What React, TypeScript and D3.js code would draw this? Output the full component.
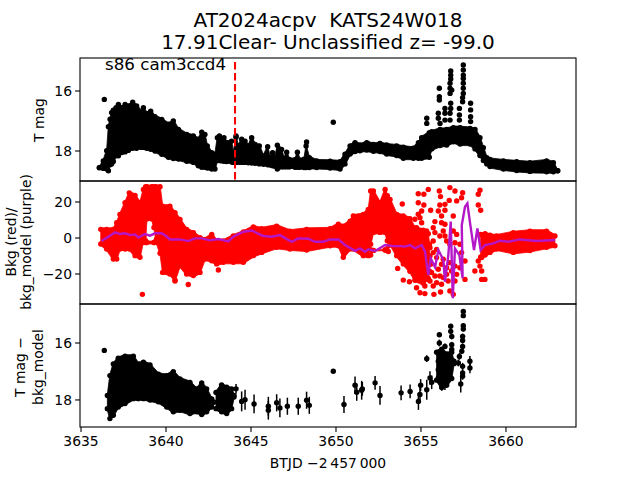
import React from "react";
import * as d3 from "d3";

type Row = number[];

const titleLines = ["AT2024acpv  KATS24W018", "17.91Clear- Unclassified z= -99.0"];
const sectorLabel = "s86 cam3ccd4";
const markerTime = 3644.06;
const xTicks = [3635, 3640, 3645, 3650, 3655, 3660];
const topTicks = [16, 18];
const midTicks = [20, 0, -20];
const botTicks = [16, 18];

// [BTJD, bright edge, faint edge]
const topBand: Row[] = [
  [3636.08,18.47,18.64],[3636.31,18.24,18.67],[3636.51,17.90,18.69],[3636.61,17.10,18.75],[3636.71,16.85,18.55],[3636.80,16.63,18.52],
  [3636.90,16.55,18.44],[3637.06,16.47,18.25],[3637.20,16.36,18.25],[3637.39,16.47,18.14],[3637.59,16.36,18.12],[3637.78,16.41,18.07],
  [3638.04,16.28,18.00],[3638.27,16.41,18.00],[3638.57,16.61,17.97],[3638.67,16.47,17.97],[3638.86,16.66,18.00],[3639.10,16.58,18.03],
  [3639.35,16.77,18.09],[3639.75,16.86,18.20],[3640.14,17.02,18.30],[3640.43,16.91,18.34],[3640.73,17.19,18.36],[3641.22,17.36,18.43],
  [3641.61,17.41,18.47],[3641.90,17.52,18.58],[3642.10,17.28,18.63],[3642.29,17.36,18.63],[3642.43,17.74,18.66],[3642.69,17.97,18.69],
  [3642.88,18.02,18.69],[3643.02,17.47,18.41],[3643.14,17.41,18.41],[3643.27,17.52,18.42],[3643.41,17.47,18.43],[3643.57,17.63,18.44],
  [3643.86,17.58,18.46],[3643.96,17.97,18.47],[3644.12,17.45,18.47],[3644.25,17.74,18.47],[3644.45,17.52,18.47],[3644.65,17.58,18.47],
  [3644.84,17.74,18.48],[3645.04,17.47,18.49],[3645.24,17.69,18.50],[3645.49,17.74,18.52],[3645.73,18.08,18.53],[3645.98,17.77,18.55],
  [3646.12,18.13,18.56],[3646.27,17.97,18.58],[3646.41,18.13,18.60],[3646.55,17.72,18.69],[3646.80,17.86,18.62],[3646.94,18.17,18.62],
  [3647.10,17.95,18.62],[3647.25,18.19,18.62],[3647.59,18.20,18.63],[3647.73,17.95,18.63],[3647.88,18.21,18.63],[3648.12,18.18,18.64],
  [3648.24,17.74,18.64],[3648.43,18.13,18.64],[3648.86,18.24,18.64],[3649.65,18.25,18.66],[3650.24,18.27,18.69],[3650.53,18.02,18.52],
  [3650.83,17.74,18.19],[3651.12,17.63,18.11],[3651.41,17.71,18.08],[3651.81,17.63,18.06],[3652.20,17.69,18.10],
  [3652.59,17.66,18.11],[3652.98,17.71,18.19],[3653.57,17.74,18.24],[3653.96,17.78,18.33],[3654.55,17.82,18.33],
  [3654.85,17.63,18.33],[3655.04,17.47,18.33],[3655.49,17.30,18.30],[3655.63,17.27,18.02],[3656.12,17.19,17.91],
  [3656.51,17.19,17.89],[3656.90,17.13,17.78],[3657.30,17.13,17.86],[3657.89,17.16,17.86],[3658.18,17.19,18.02],
  [3658.47,17.47,18.24],[3658.67,17.80,18.41],[3658.87,18.13,18.52],[3659.06,18.19,18.61],[3659.85,18.24,18.69],
  [3660.63,18.27,18.74],[3661.41,18.30,18.77],[3662.39,18.24,18.78],[3662.79,18.30,18.78],[3663.04,18.58,18.74],
];
// [BTJD, mag]
const topPoints: Row[] = [
  [3636.37,16.28],[3644.12,17.50],[3649.84,17.04],[3648.27,17.70],
  [3656.08,15.91],[3656.08,16.19],[3656.08,16.30],[3656.02,16.74],[3656.02,16.91],[3656.12,17.08],
  [3656.75,15.33],[3656.75,15.47],[3656.75,15.60],[3656.71,15.74],[3656.71,15.91],[3656.81,15.97],[3656.71,16.08],
  [3656.75,16.41],[3656.75,16.58],[3656.71,16.74],[3656.71,16.97],
  [3657.49,15.13],[3657.49,15.30],[3657.49,15.47],[3657.49,15.58],[3657.49,15.74],[3657.49,15.91],[3657.49,16.08],[3657.45,16.22],[3657.45,16.36],
  [3657.92,16.41],[3657.92,16.63],[3657.92,16.86],[3657.92,17.02],
  [3655.34,16.91],[3655.34,17.08],[3656.41,16.58],[3656.41,16.74],[3656.41,16.97],[3657.26,16.58],[3657.26,16.80],[3657.26,16.97],
];

// [BTJD, high edge, low edge]
const midBandA: Row[] = [
  [3636.16,6.3,-4.8],[3636.51,6.3,-7.6],[3636.90,6.3,-13.2],[3637.10,10.0,-13.2],[3637.29,14.6,-7.6],[3637.59,21.1,-7.6],
  [3637.84,26.6,-7.6],[3638.18,25.2,-11.3],[3638.47,21.1,-12.2],[3638.67,28.5,-3.0],[3638.80,30,-3],[3638.88,30,9.1],
  [3639.16,30,9.1],[3639.29,30,4.4],[3639.41,30,-3],[3639.65,30,-10],[3639.80,19.2,-20.6],[3640.23,19.2,-21.5],
  [3640.53,15.5,-25],[3640.82,11.8,-17],[3641.21,6.3,-21.5],[3641.61,4.4,-22.4],[3642.00,1.6,-20.6],[3642.29,0.7,-13.2],
  [3642.69,3.5,-14.1],[3642.98,0,-15.9],[3643.37,-0.2,-15],[3643.96,2.6,-15],[3644.55,4.8,-15],[3645.14,7.6,-11.3],
  [3645.63,6.6,-9.5],[3646.51,8.1,-6.7],[3647.29,5.3,-7.6],[3648.27,6.3,-8.2],[3649.65,6.6,-5.8],[3650.14,9.1,-5.8],
  [3650.43,8.1,-12.2],[3650.83,10.9,-7.6],[3651.02,13.7,-7.6],[3651.61,14.6,-11.3],[3651.90,17.4,-11.3],[3652.04,27.6,-5],
  [3652.20,27.6,1.6],[3652.59,21.1,1.6],[3652.89,28.5,1.6],[3653.02,25,-3],[3653.18,22.9,-4.8],[3653.57,14.6,-11.3],
  [3653.96,13.7,-15.9],[3654.35,12.2,-20],[3654.64,7,-25],[3655.13,5.8,-26.7],[3655.43,3.9,-23.9],[3655.50,-2,-20],
];
const midBandB: Row[] = [[3638.70,2,-4],[3638.85,-1,-4],[3639.30,-1,-4],[3639.45,1,-4]];
const midBandC: Row[] = [[3652.04,-5,-11],[3652.20,-5.8,-8],[3652.89,-5.8,-7.6],[3653.08,-3,-9]];
const midBandE: Row[] = [
  [3658.51,3.5,-12],[3658.77,3.9,-11],[3659.06,3,-9.5],[3659.45,2.6,-7.6],[3660.43,4.4,-9.5],
  [3661.41,5.3,-8.5],[3662.39,5.3,-6.7],[3662.88,2.6,-5.8],
];
const midPoints: Row[] = [
  [3638.61,-31.3],[3641.31,-25.8],[3643.08,-17.8],[3640.53,-23.9],[3653.90,18.9],[3653.63,-16.9],[3653.96,-23.4],[3654.32,-24.3],
  [3654.84,24.6],[3655.17,24.3],[3655.43,27.0],[3656.08,26.1],[3656.15,23.0],[3656.70,28.0],[3657.00,26.1],[3657.45,25.2],
  [3657.39,22.4],[3657.10,20.6],[3656.66,20.9],[3656.41,18.7],[3656.11,18.3],[3658.47,26.5],[3658.37,24.3],[3658.37,18.3],
  [3658.51,15.4],[3654.84,19.6],[3655.17,18.3],[3655.57,15.4],[3655.04,15.0],[3654.84,13.2],[3654.64,10.4],[3654.94,11.3],
  [3655.04,8.5],[3656.02,15.0],[3656.41,15.4],[3656.21,12.2],[3655.82,9.1],[3656.21,8.5],[3656.90,12.2],[3656.41,7.6],
  [3655.72,5.7],[3655.33,3.9],[3655.82,3.0],[3656.31,3.9],[3656.90,3.9],[3656.41,1.1],[3656.11,1.1],[3657.10,2.0],[3654.74,5.7],
  [3655.72,-1.7],[3656.51,-1.7],[3655.53,-5.4],[3655.92,-6.3],[3655.72,-8.1],[3656.70,-3.5],[3657.29,-3.5],[3657.39,-8.1],
  [3657.59,-12.8],[3657.00,-2.6],[3658.37,-12.8],[3656.31,-11.8],[3655.92,-10.9],[3658.57,-10.9],[3658.17,-18.3],[3657.59,-23.0],
  [3657.00,-23.9],[3656.60,-23.9],[3656.21,-25.7],[3655.72,-26.7],[3655.23,-26.7],[3654.74,-27.6],[3654.94,-30.4],[3655.23,-30.9],
  [3655.76,-31.3],[3656.15,-30.0],[3656.90,-31.3],[3658.57,-23.0],[3658.76,-23.0],[3656.70,-29.4],[3656.31,-22.0],[3655.82,-21.1],
  [3655.33,-23.0],[3657.10,-20.2],[3658.57,-18.3],[3658.47,-15.6],[3656.51,-16.5],[3657.00,-15.6],[3655.57,-14.6],[3655.62,-19.2],
  [3656.02,-17.4],[3656.21,-14.6],[3656.11,-21.1],[3656.51,-20.2],[3656.70,-13.7],[3656.80,-18.3],[3657.29,-16.5],[3655.53,-23.9],
  [3655.92,-24.8],[3655.53,-10.0],
];
const modelLine: Row[] = [
  [3636.21,-1.7],[3636.61,0.7],[3637.00,3.1],[3637.29,2.2],[3637.59,2.6],[3637.88,1.6],[3638.18,2.0],[3638.37,0.3],[3638.76,2.2],
  [3639.06,1.3],[3639.35,2.6],[3639.74,2.6],[3640.00,1.1],[3640.23,-0.8],[3640.82,-0.8],[3641.31,-1.7],[3641.70,-0.2],[3642.10,-0.2],
  [3642.59,-1.3],[3643.08,-0.6],[3643.67,-1.9],[3643.96,0.7],[3644.55,3.5],[3645.04,4.2],[3645.72,1.1],[3646.21,0.7],[3646.70,1.6],
  [3647.39,-2.1],[3647.78,-0.2],[3648.37,-0.4],[3648.76,-2.1],[3649.25,-2.1],[3649.65,-0.8],[3650.14,-0.8],[3650.53,-3.9],[3651.12,-7.1],
  [3651.41,-5.8],[3651.71,-7.6],[3651.90,-6.3],[3652.30,-7.2],[3652.89,-3.9],[3653.38,-4.5],[3653.87,-4.5],[3654.06,-4.8],[3654.36,-3.9],
  [3654.65,-5.8],[3655.04,-3.9],[3655.24,-7.6],[3655.43,-20.6],[3655.57,-11.3],[3655.83,-16.3],[3656.02,-6.7],[3656.32,-12.2],[3656.41,-24.3],
  [3656.61,-9.5],[3656.75,9.1],[3656.87,-33.5],[3657.00,-5.8],[3657.26,-9.5],[3657.45,-22.4],[3657.40,7.2],[3657.59,17.4],[3657.73,19.2],
  [3657.89,8.1],[3658.12,-6.7],[3658.32,5.3],[3658.51,-6.7],[3658.77,-3.9],[3659.26,-3.0],[3659.65,-1.5],[3660.14,-2.1],[3660.83,-0.8],
  [3661.81,-1.7],[3662.89,-1.1],
];

const botBandA: Row[] = [
  [3636.55,17.75,18.40],[3636.70,17.05,18.75],[3636.90,16.64,18.63],[3637.19,16.44,18.34],[3637.59,16.37,18.22],[3638.08,16.37,18.05],
  [3638.37,16.64,18.05],[3638.67,16.58,18.05],[3639.06,16.68,18.10],[3639.55,17.00,18.16],[3640.04,17.05,18.34],[3640.43,16.91,18.51],
  [3640.82,17.17,18.46],[3641.41,17.29,18.57],[3641.80,17.52,18.51],[3642.10,17.31,18.61],[3642.39,17.52,18.51],[3642.69,17.87,18.34],[3642.82,18.05,18.10],
];
const botBandB: Row[] = [[3642.94,17.64,18.40],[3643.27,17.38,18.51],[3643.57,17.46,18.57],[3643.86,17.52,18.40],[3644.00,17.75,17.99]];
const botBandC: Row[] = [[3655.92,16.23,17.40],[3656.22,16.12,17.66],[3656.51,16.29,17.58],[3656.81,16.23,17.34],[3656.94,16.58,16.82]];
// [BTJD, mag, error]
const botPoints: Row[] = [
  [3636.37,16.26,0.05],[3644.12,17.61,0.17],[3644.45,18.05,0.35],[3644.65,17.99,0.35],[3645.18,18.14,0.33],[3646.02,18.22,0.33],[3646.02,18.36,0.33],
  [3646.51,18.10,0.30],[3646.70,18.28,0.33],[3647.14,18.22,0.30],[3647.78,18.22,0.30],[3648.27,18.01,0.30],[3648.43,18.19,0.30],
  [3649.84,16.99,0.06],[3650.47,18.16,0.30],[3651.12,17.48,0.30],[3651.22,17.73,0.30],[3651.51,17.66,0.33],[3651.55,17.61,0.24],[3652.30,17.40,0.24],
  [3652.59,17.84,0.33],[3653.83,17.75,0.26],[3654.36,17.70,0.24],[3654.85,18.05,0.30],[3654.94,17.81,0.30],[3654.98,17.48,0.21],[3655.34,17.64,0.35],
  [3655.34,16.55,0.12],[3655.53,17.23,0.24],[3655.63,17.38,0.24],[3656.08,15.71,0.08],[3656.08,16.00,0.12],[3656.02,16.35,0.12],[3656.75,15.41,0.08],
  [3656.75,15.59,0.08],[3656.81,15.77,0.10],[3656.81,16.06,0.10],[3656.81,16.23,0.10],[3656.41,16.12,0.10],[3657.49,14.89,0.06],[3657.49,15.04,0.06],
  [3657.49,15.39,0.08],[3657.49,15.51,0.08],[3657.45,15.77,0.10],[3657.45,15.91,0.10],[3657.45,16.12,0.10],[3657.40,16.29,0.10],[3657.26,16.47,0.12],
  [3657.20,16.70,0.12],[3657.45,16.82,0.12],[3657.45,17.05,0.12],[3657.45,17.17,0.12],[3657.34,17.44,0.30],[3657.88,16.64,0.18],[3657.88,16.88,0.18],
  [3656.02,16.64,0.12],[3656.02,16.94,0.12],[3656.02,17.23,0.15],[3656.22,17.50,0.18],[3656.41,17.45,0.20],[3656.61,17.30,0.20],[3656.94,16.64,0.10],
];

const FONT = "'DejaVu Sans'";
const R = 2.7;
const CORE_INSET = 1.2;
const left = 80, right = 576;
const panels = { top: [58, 181], mid: [181, 304], bot: [304, 427] };
const x = d3.scaleLinear().domain([3634.94, 3664.12]).range([left, right]);
const yTop = d3.scaleLinear().domain([14.9, 19.0]).range(panels.top);
const yMid = d3.scaleLinear().domain([31.67, -36.67]).range(panels.mid);
const yBot = d3.scaleLinear().domain([14.63, 18.95]).range(panels.bot);

const tickLabel = (v: number) => String(v).replace("-", "\u2212");

// A dense run of observations: a filled core with marker-sized circles on its edges.
function Band({ rows, y, color }: { rows: Row[]; y: d3.ScaleLinear<number, number>; color: string }) {
  const inset = (d: Row, by: number) => {
    const a = y(d[1]), b = y(d[2]);
    if (b - a <= 2 * by) { const m = (a + b) / 2; return [m, m]; }
    return [a + by, b - by];
  };
  const path = d3.area<Row>().x((d) => x(d[0])).y0((d) => inset(d, CORE_INSET)[0]).y1((d) => inset(d, CORE_INSET)[1]);
  return (
    <g fill={color}>
      <path d={path(rows) ?? ""} stroke={color} strokeWidth={0.8} />
      {rows.map((d, i) => (
        <g key={i}>
          <circle cx={x(d[0])} cy={inset(d, R)[0]} r={R} />
          <circle cx={x(d[0])} cy={inset(d, R)[1]} r={R} />
        </g>
      ))}
    </g>
  );
}

function YAxis({ y, ticks }: { y: d3.ScaleLinear<number, number>; ticks: number[] }) {
  return (
    <g>
      {ticks.map((t) => (
        <g key={t}>
          <line x1={left - 4.9} x2={left} y1={y(t)} y2={y(t)} stroke="#000" strokeWidth={1.1} />
          <text x={left - 8} y={y(t) + 5} textAnchor="end" fontSize={13.9} fontFamily={FONT}>{tickLabel(t)}</text>
        </g>
      ))}
    </g>
  );
}

function Frame({ id, range }: { id: string; range: number[] }) {
  return (
    <clipPath id={id}>
      <rect x={left} y={range[0]} width={right - left} height={range[1] - range[0]} />
    </clipPath>
  );
}

export default function App() {
  const line = d3.line<Row>().x((d) => x(d[0])).y((d) => yMid(d[1]));
  return (
    <svg width={640} height={480} style={{ position: "absolute", left: 0, top: 0, background: "#fff" }}>
      <defs>
        <Frame id="ct" range={panels.top} />
        <Frame id="cm" range={panels.mid} />
        <Frame id="cb" range={panels.bot} />
      </defs>

      <g textAnchor="middle" fontFamily={FONT} fontSize={20}>
        <text x={328} y={27} xmlSpace="preserve" style={{ whiteSpace: "pre" }}>{titleLines[0]}</text>
        <text x={328} y={49} xmlSpace="preserve" style={{ whiteSpace: "pre" }}>{titleLines[1]}</text>
      </g>

      <g clipPath="url(#ct)">
        <Band rows={topBand} y={yTop} color="#000" />
        {topPoints.map((d, i) => <circle key={i} cx={x(d[0])} cy={yTop(d[1])} r={R} fill="#000" />)}
      </g>
      <line x1={x(markerTime)} x2={x(markerTime)} y1={yTop(15.03)} y2={panels.top[1]} stroke="#f00" strokeWidth={2.08} strokeDasharray="7.7 3.3" />
      <text x={105} y={70} fontFamily={FONT} fontSize={16.7}>{sectorLabel}</text>

      <g clipPath="url(#cm)">
        {[midBandA, midBandB, midBandC, midBandE].map((b, i) => (
          <Band key={i} rows={b} y={yMid} color="#f00" />
        ))}
        {midPoints.map((d, i) => <circle key={i} cx={x(d[0])} cy={yMid(d[1])} r={R} fill="#f00" />)}
        <path d={line(modelLine) ?? ""} fill="none" stroke="#b416c8" strokeWidth={2.4} />
      </g>

      <g clipPath="url(#cb)">
        {[botBandA, botBandB, botBandC].map((b, i) => (
          <Band key={i} rows={b} y={yBot} color="#000" />
        ))}
        {botPoints.map((d, i) => (
          <g key={i}>
            <line x1={x(d[0])} x2={x(d[0])} y1={yBot(d[1] - d[2])} y2={yBot(d[1] + d[2])} stroke="#000" strokeWidth={1.5} />
            <circle cx={x(d[0])} cy={yBot(d[1])} r={R} fill="#000" />
          </g>
        ))}
      </g>

      {Object.values(panels).map((r, i) => (
        <rect key={i} x={left} y={r[0]} width={right - left} height={r[1] - r[0]} fill="none" stroke="#000" strokeWidth={1.1} />
      ))}

      <YAxis y={yTop} ticks={topTicks} />
      <YAxis y={yMid} ticks={midTicks} />
      <YAxis y={yBot} ticks={botTicks} />

      {xTicks.map((t) => (
        <g key={t}>
          <line x1={x(t)} x2={x(t)} y1={427} y2={431.9} stroke="#000" strokeWidth={1.1} />
          <text x={x(t)} y={446} textAnchor="middle" fontSize={13.9} fontFamily={FONT}>{t}</text>
        </g>
      ))}

      <g fontFamily={FONT} fontSize={13.9} textAnchor="middle">
        <text transform="translate(44,120) rotate(-90)">T mag</text>
        <text transform="translate(16,242) rotate(-90)">Bkg (red)/</text>
        <text transform="translate(31,242) rotate(-90)">bkg_model (purple)</text>
        <text transform="translate(25,367) rotate(-90)">T mag −</text>
        <text transform="translate(43,367) rotate(-90)">bkg_model</text>
        <text x={328} y={468}>BTJD −2{"\u2009"}457{"\u2009"}000</text>
      </g>
    </svg>
  );
}
